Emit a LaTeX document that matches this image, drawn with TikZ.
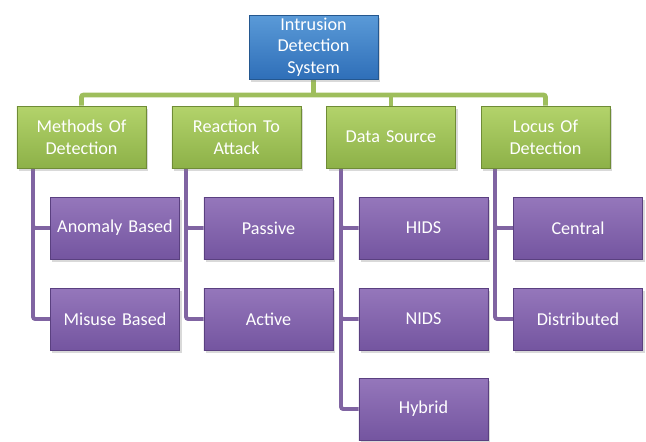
\documentclass[tikz,border=0pt]{standalone}
\usepackage{fontspec}
\setmainfont{Carlito}
\usetikzlibrary{shadows,backgrounds}
\definecolor{bluetop}{HTML}{5A9AD8}
\definecolor{bluebot}{HTML}{2F6FB8}
\definecolor{blueedge}{HTML}{24578F}
\definecolor{greentop}{HTML}{B3D36B}
\definecolor{greenbot}{HTML}{8DB148}
\definecolor{greenedge}{HTML}{6F8C36}
\definecolor{greenline}{HTML}{9EBE5C}
\definecolor{purptop}{HTML}{9577BB}
\definecolor{purpbot}{HTML}{7455A0}
\definecolor{purpedge}{HTML}{5A4080}
\definecolor{purpline}{HTML}{8064A2}
\tikzset{
  bevel/.style={path picture={
    \fill[white,opacity=0.4] (path picture bounding box.north west) -- (path picture bounding box.north east)
      -- ([shift={(-0.18,-0.18)}]path picture bounding box.north east) -- ([shift={(0.18,-0.18)}]path picture bounding box.north west) -- cycle;
    \fill[white,opacity=0.2] (path picture bounding box.north west) -- (path picture bounding box.south west)
      -- ([shift={(0.18,0.18)}]path picture bounding box.south west) -- ([shift={(0.18,-0.18)}]path picture bounding box.north west) -- cycle;
    \fill[black,opacity=0.15] (path picture bounding box.north east) -- (path picture bounding box.south east)
      -- ([shift={(-0.18,0.18)}]path picture bounding box.south east) -- ([shift={(-0.18,-0.18)}]path picture bounding box.north east) -- cycle;
    \fill[black,opacity=0.3] (path picture bounding box.south west) -- (path picture bounding box.south east)
      -- ([shift={(-0.18,0.18)}]path picture bounding box.south east) -- ([shift={(0.18,0.18)}]path picture bounding box.south west) -- cycle;
  }},
  basebox/.style={rectangle, inner sep=0pt, align=center, text=white,
    font=\fontsize{15.5}{18.5}\selectfont, minimum height=1.86cm, text width=3.7cm,
    drop shadow={opacity=0.3, shadow xshift=0.06cm, shadow yshift=-0.09cm}, bevel, line width=0.5pt},
  topbox/.style={basebox, top color=bluetop, bottom color=bluebot, draw=blueedge, minimum width=3.87cm, minimum height=1.92cm},
  catbox/.style={basebox, top color=greentop, bottom color=greenbot, draw=greenedge, minimum width=3.87cm},
  leafbox/.style={basebox, top color=purptop, bottom color=purpbot, draw=purpedge, minimum width=3.88cm},
  gline/.style={draw=greenline, line width=4.2pt, rounded corners=2pt},
  pline/.style={draw=purpline, line width=3.4pt, rounded corners=2pt},
}
\begin{document}
\begin{tikzpicture}[x=0.03cm, y=-0.03cm]
\useasboundingbox (0,0) rectangle (646,441);
% route coordinates
\coordinate (bar) at (0,95);
\coordinate (v1) at (33,0);
\coordinate (v2) at (186,0);
\coordinate (v3) at (341,0);
\coordinate (v4) at (495,0);
% nodes
\node[topbox] (top) at (313.5,47) {Intrusion\\Detection\\System};
\node[catbox] (m1) at (81.5,137) {Methods Of\\Detection};
\node[catbox] (m2) at (236.5,137) {Reaction To\\Attack};
\node[catbox] (m3) at (391,137) {Data Source};
\node[catbox] (m4) at (545.5,137) {Locus Of\\Detection};
\node[leafbox] (a1) at (115,228) {Anomaly Based};
\node[leafbox] (b1) at (115,319) {Misuse Based};
\node[leafbox] (a2) at (268.5,228) {Passive};
\node[leafbox] (b2) at (268.5,319) {Active};
\node[leafbox] (a3) at (423.5,228) {HIDS};
\node[leafbox] (b3) at (423.5,319) {NIDS};
\node[leafbox] (h3) at (423.5,409) {Hybrid};
\node[leafbox] (a4) at (578,228) {Central};
\node[leafbox] (b4) at (578,319) {Distributed};
% connectors behind the boxes
\begin{scope}[on background layer]
\draw[gline] (top.south) -- (top.south |- bar);
\draw[gline] (m1.north) |- (m4.north |- bar) -- (m4.north);
\draw[gline] (m2.north) -- (m2.north |- bar);
\draw[gline] (m3.north) -- (m3.north |- bar);
\draw[pline] (m1.south -| v1) |- (a1.west);
\draw[pline] (m1.south -| v1) |- (b1.west);
\draw[pline] (m2.south -| v2) |- (a2.west);
\draw[pline] (m2.south -| v2) |- (b2.west);
\draw[pline] (m3.south -| v3) |- (a3.west);
\draw[pline] (m3.south -| v3) |- (b3.west);
\draw[pline] (m3.south -| v3) |- (h3.west);
\draw[pline] (m4.south -| v4) |- (a4.west);
\draw[pline] (m4.south -| v4) |- (b4.west);
\end{scope}
\end{tikzpicture}
\end{document}
